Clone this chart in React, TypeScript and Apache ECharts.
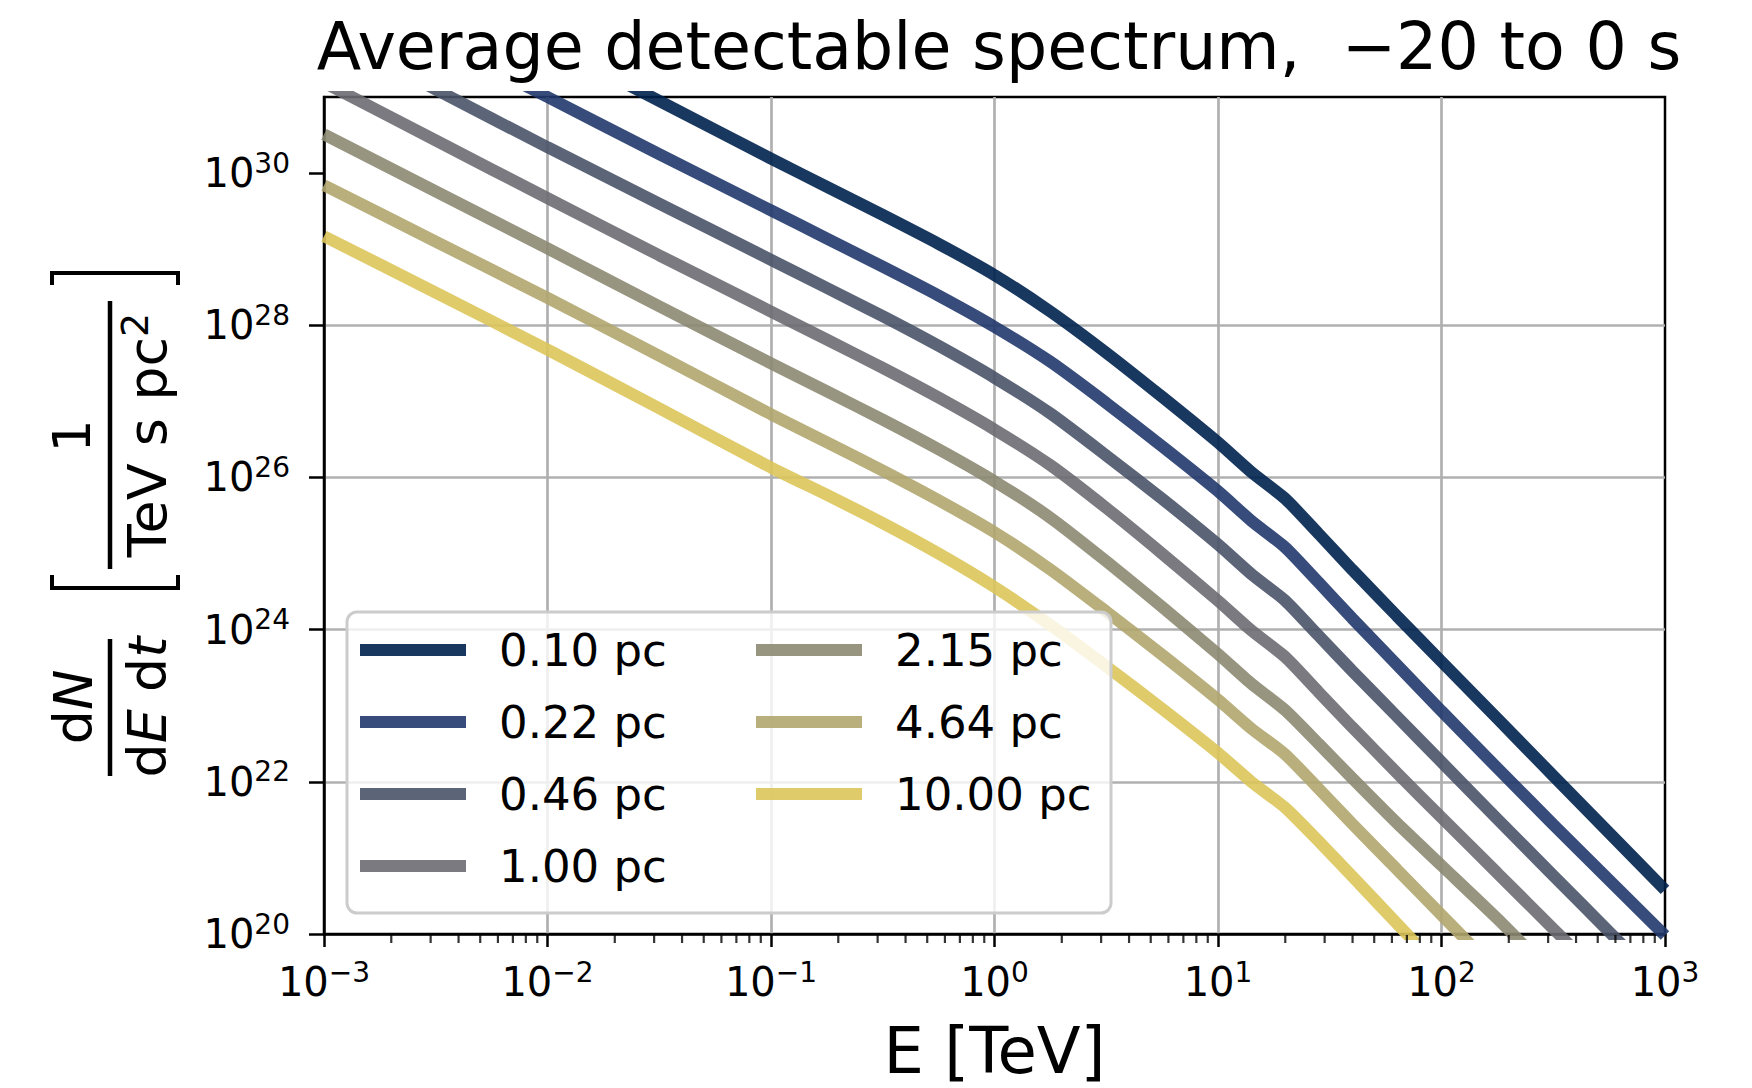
import React, { useEffect, useRef } from "react";
import * as echarts from "echarts";

// Energy grid [TeV]
const E_TEV = [0.001, 0.00316, 0.01, 0.0316, 0.1, 0.178, 0.316, 0.562, 1, 1.78, 3.16, 5.62, 10, 14.1, 20, 28.2, 39.8, 63.1, 100, 178, 316, 562, 1000];

// log10 of dN/(dE dt) [1/(TeV s pc^2)], one array per distance
const LOG_F_010 = [33.2, 32.45, 31.7, 30.95, 30.19, 29.82, 29.45, 29.07, 28.66, 28.18, 27.64, 27.06, 26.46, 26.07, 25.72, 25.26, 24.79, 24.18, 23.58, 22.83, 22.08, 21.33, 20.58];
const LOG_F_022 = [32.5, 31.75, 31.0, 30.25, 29.51, 29.14, 28.77, 28.39, 27.98, 27.52, 26.98, 26.41, 25.82, 25.43, 25.08, 24.62, 24.15, 23.54, 22.93, 22.18, 21.44, 20.71, 19.98];
const LOG_F_046 = [31.87, 31.1, 30.34, 29.6, 28.86, 28.49, 28.12, 27.73, 27.31, 26.84, 26.29, 25.72, 25.12, 24.73, 24.38, 23.92, 23.46, 22.86, 22.26, 21.51, 20.77, 20.03, 19.3];
const LOG_F_100 = [31.19, 30.43, 29.67, 28.92, 28.18, 27.81, 27.44, 27.05, 26.63, 26.16, 25.6, 25.0, 24.38, 23.99, 23.64, 23.18, 22.72, 22.12, 21.53, 20.8, 20.07, 19.34, 18.6];
const LOG_F_215 = [30.51, 29.76, 29.01, 28.25, 27.5, 27.13, 26.76, 26.37, 25.95, 25.47, 24.9, 24.3, 23.68, 23.29, 22.94, 22.5, 22.05, 21.46, 20.9, 20.2, 19.46, 18.72, 17.98];
const LOG_F_464 = [29.84, 29.1, 28.36, 27.6, 26.83, 26.46, 26.09, 25.7, 25.28, 24.79, 24.24, 23.67, 23.08, 22.7, 22.36, 21.91, 21.45, 20.85, 20.25, 19.5, 18.75, 18.0, 17.25];
const LOG_F_1000 = [29.17, 28.43, 27.68, 26.91, 26.13, 25.77, 25.4, 25.0, 24.56, 24.06, 23.52, 22.96, 22.38, 22.0, 21.66, 21.22, 20.76, 20.14, 19.52, 18.77, 18.02, 17.27, 16.52];

const SERIES_NAMES = ["0.10 pc", "0.22 pc", "0.46 pc", "1.00 pc", "2.15 pc", "4.64 pc", "10.00 pc"];
const SERIES_VALUES = [LOG_F_010, LOG_F_022, LOG_F_046, LOG_F_100, LOG_F_215, LOG_F_464, LOG_F_1000];
const SERIES_COLORS = ["#00224e", "#21396b", "#4a5369", "#6b6c72", "#8c8872", "#b1a66e", "#dbc559"];

// Tick labels
const Y_TICK_EXPONENTS = [20, 22, 24, 26, 28, 30];
const X_DECADES = [-3, -2, -1, 0, 1, 2];
const X_MINOR_MULTIPLIERS = [2, 3, 4, 5, 6, 7, 8, 9];

const FONT = "DejaVu Sans";

function supLabel(exp: number) {
  const s = exp < 0 ? "\u2212" + Math.abs(exp) : String(exp);
  return `{b|10}{s|${s}}`;
}

const tickRich = {
  b: { fontSize: 40, fontFamily: FONT, color: "#000", lineHeight: 48 },
  s: { fontSize: 28, fontFamily: FONT, color: "#000", lineHeight: 28, verticalAlign: "top" },
};

export default function App() {
  const ref = useRef<HTMLDivElement>(null);

  useEffect(() => {
    if (!ref.current) return;
    const chart = echarts.init(ref.current, undefined, { renderer: "svg" });

    const minorTicks: number[][] = [];
    X_DECADES.forEach((d) => {
      X_MINOR_MULTIPLIERS.forEach((m) => {
        minorTicks.push([m * Math.pow(10, d), 20]);
      });
    });

    const lineSeries = SERIES_NAMES.map((name, i) => ({
      name,
      type: "line",
      data: E_TEV.map((e, j) => [e, SERIES_VALUES[i][j]]),
      showSymbol: false,
      symbol: "none",
      smooth: 0.2,
      color: SERIES_COLORS[i],
      lineStyle: { width: 12, color: SERIES_COLORS[i], opacity: 0.9, cap: "butt" },
      clip: true,
      z: 2,
    }));

    const legendCommon = {
      orient: "vertical",
      icon: "rect",
      itemWidth: 106,
      itemHeight: 12,
      itemGap: 24,
      padding: 0,
      top: 626,
      itemStyle: { opacity: 0.9 },
      textStyle: { fontSize: 45, fontFamily: FONT, color: "#000", lineHeight: 48, padding: [0, 0, 0, 28] },
      selectedMode: false,
      z: 20,
    };

    const option: any = {
      animation: false,
      backgroundColor: "#ffffff",
      title: {
        text: "Average detectable spectrum,  \u221220 to 0 s",
        left: 994,
        textAlign: "center",
        top: 9,
        textStyle: { fontSize: 65, fontFamily: FONT, fontWeight: "normal", color: "#000" },
      },
      grid: {
        left: 324,
        top: 97,
        width: 1341,
        height: 839,
        show: true,
        borderColor: "#000",
        borderWidth: 2.5,
        backgroundColor: "transparent",
      },
      legend: [
        { ...legendCommon, left: 360, data: SERIES_NAMES.slice(0, 4) },
        { ...legendCommon, left: 756, data: SERIES_NAMES.slice(4) },
      ],
      xAxis: {
        type: "log",
        logBase: 10,
        min: 0.001,
        max: 1000,
        splitNumber: 6,
        name: "E [TeV]",
        nameLocation: "middle",
        nameGap: 85,
        nameTextStyle: { fontSize: 64, fontFamily: FONT, color: "#000" },
        axisLine: { show: true, lineStyle: { color: "#000", width: 2.5 } },
        axisTick: { show: true, length: 13, lineStyle: { color: "#000", width: 2.5 } },
        axisLabel: {
          margin: 24,
          formatter: (v: number) => supLabel(Math.round(Math.log10(v))),
          rich: tickRich,
        },
        splitLine: { show: true, showMinLine: false, showMaxLine: false, lineStyle: { color: "#b0b0b0", width: 2.7 } },
      },
      yAxis: {
        type: "value",
        min: 20,
        max: 31,
        interval: 2,
        axisLine: { show: true, lineStyle: { color: "#000", width: 2.5 } },
        axisTick: { show: true, length: 15, customValues: Y_TICK_EXPONENTS, lineStyle: { color: "#000", width: 2.5 } },
        axisLabel: {
          margin: 34,
          customValues: Y_TICK_EXPONENTS,
          formatter: (v: number) => supLabel(Math.round(v)),
          rich: tickRich,
        },
        splitLine: { show: true, showMinLine: false, showMaxLine: false, lineStyle: { color: "#b0b0b0", width: 2.7 } },
      },
      series: [
        ...lineSeries,
        {
          name: "minor-ticks",
          type: "scatter",
          data: minorTicks,
          symbol: "rect",
          symbolSize: [2.2, 8],
          symbolOffset: [0, 5],
          itemStyle: { color: "#000" },
          silent: true,
          clip: false,
          z: 6,
        },
      ],
      graphic: {
        elements: [
          {
            type: "rect",
            shape: { x: 347, y: 612, width: 764, height: 301, r: 10 },
            style: { fill: "rgba(255,255,255,0.8)", stroke: "#cccccc", lineWidth: 3 },
            z: 10,
            silent: true,
          },
          // y-axis label: [ 1 / (TeV s pc^2) ] and dN/(dE dt)
          {
            type: "text",
            x: 72,
            y: 436,
            rotation: Math.PI / 2,
            silent: true,
            style: { text: "1", fontSize: 52, fontFamily: FONT, fill: "#000", align: "center", verticalAlign: "middle" },
          },
          { type: "line", silent: true, shape: { x1: 110, y1: 301, x2: 110, y2: 569 }, style: { stroke: "#000", lineWidth: 4.5 } },
          {
            type: "text",
            x: 147,
            y: 435,
            rotation: Math.PI / 2,
            silent: true,
            style: {
              text: "{n|TeV s pc}{s|2}",
              align: "center",
              verticalAlign: "middle",
              fill: "#000",
              rich: {
                n: { fontSize: 54, fontFamily: FONT, fill: "#000", lineHeight: 62 },
                s: { fontSize: 38, fontFamily: FONT, fill: "#000", lineHeight: 38, verticalAlign: "top" },
              },
            },
          },
          {
            type: "polyline",
            silent: true,
            shape: { points: [[52, 285], [52, 273], [178, 273], [178, 285]] },
            style: { stroke: "#000", lineWidth: 4, fill: "none" },
          },
          {
            type: "polyline",
            silent: true,
            shape: { points: [[52, 575], [52, 588], [178, 588], [178, 575]] },
            style: { stroke: "#000", lineWidth: 4, fill: "none" },
          },
          {
            type: "text",
            x: 73,
            y: 707,
            rotation: Math.PI / 2,
            silent: true,
            style: {
              text: "{r|d}{i|N}",
              align: "center",
              verticalAlign: "middle",
              fill: "#000",
              rich: {
                r: { fontSize: 54, fontFamily: FONT, fill: "#000" },
                i: { fontSize: 54, fontFamily: FONT, fontStyle: "italic", fill: "#000" },
              },
            },
          },
          { type: "line", silent: true, shape: { x1: 110, y1: 639, x2: 110, y2: 776 }, style: { stroke: "#000", lineWidth: 4.5 } },
          {
            type: "text",
            x: 147,
            y: 707,
            rotation: Math.PI / 2,
            silent: true,
            style: {
              text: "{r|d}{i|E}{r| d}{i|t}",
              align: "center",
              verticalAlign: "middle",
              fill: "#000",
              rich: {
                r: { fontSize: 54, fontFamily: FONT, fill: "#000" },
                i: { fontSize: 54, fontFamily: FONT, fontStyle: "italic", fill: "#000" },
              },
            },
          },
        ],
      },
    };

    chart.setOption(option);
    return () => {
      chart.dispose();
    };
  }, []);

  return (
    <div
      ref={ref}
      style={{ position: "absolute", left: 0, top: 0, width: 1752, height: 1088, background: "#fff" }}
    />
  );
}
